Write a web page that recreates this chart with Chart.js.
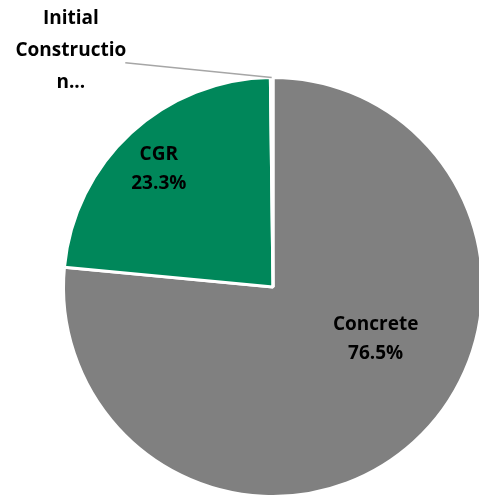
<!DOCTYPE html>
<html>
<head>
<meta charset="utf-8">
<script src="https://cdn.jsdelivr.net/npm/chart.js@4.4.0/dist/chart.umd.min.js"></script>
<style>
    html, body { margin: 0; padding: 0; background: #fff; overflow: hidden; }
    #wrap { position: absolute; left: 0; top: 0; width: 500px; height: 510px; }
</style>
</head>
<body>
<div id="wrap"><canvas id="pieChart"></canvas></div>
<script>
// DATA
var categories = ['Concrete', 'CGR', 'Initial Construction'];
var shares = [76.5, 23.3, 0.2];
var sliceColors = ['#808080', '#00875A', '#ffffff'];

// label text lines and where they sit (in radius units from the centre)
var labelLines = [['Concrete', '76.5%'], ['CGR', '23.3%'], ['Initial', 'Constructio', 'n...']];
var labelSpots = [[0.49, 0.25], [-0.545, -0.565], [-0.965, -1.13]];

var labelPlugin = {
    id: 'pieLabels',
    afterDraw: function (chart) {
        var ctx = chart.ctx;
        var arc = chart.getDatasetMeta(0).data[0];
        var cx = arc.x, cy = arc.y, r = arc.outerRadius;
        ctx.save();
        ctx.font = 'bold 19px "Open Sans", "DejaVu Sans", sans-serif';
        ctx.fillStyle = '#000';
        ctx.textAlign = 'center';
        ctx.textBaseline = 'middle';
        labelLines.forEach(function (lines, i) {
            var x = cx + labelSpots[i][0] * r;
            var y = cy + labelSpots[i][1] * r;
            var step = i === 2 ? 32 : 29;
            var top = y - (lines.length - 1) * step / 2;
            lines.forEach(function (t, j) {
                ctx.fillText(t, x, top + j * step);
            });
        });

        // leader line for the tiny slice
        var tiny = chart.getDatasetMeta(0).data[2];
        var mid = (tiny.startAngle + tiny.endAngle) / 2;
        ctx.strokeStyle = '#A6A6A6';
        ctx.lineWidth = 1.5;
        ctx.beginPath();
        ctx.moveTo(cx - 0.705 * r, cy - 1.07 * r);
        ctx.lineTo(cx + Math.cos(mid) * r, cy + Math.sin(mid) * r);
        ctx.stroke();
        ctx.restore();
    }
};

var pieCtx = document.getElementById('pieChart').getContext('2d');
window.pieChart = new Chart(pieCtx, {
    type: 'pie',
    data: {
        labels: categories,
        datasets: [{
            data: shares,
            backgroundColor: sliceColors,
            borderColor: '#ffffff',
            borderWidth: 3
        }]
    },
    options: {
        responsive: true,
        maintainAspectRatio: false,
        animation: false,
        layout: {
            padding: { left: 62, right: 16, top: 76, bottom: 12 }
        },
        plugins: {
            legend: { display: false },
            tooltip: { enabled: false }
        }
    },
    plugins: [labelPlugin]
});
</script>
</body>
</html>
